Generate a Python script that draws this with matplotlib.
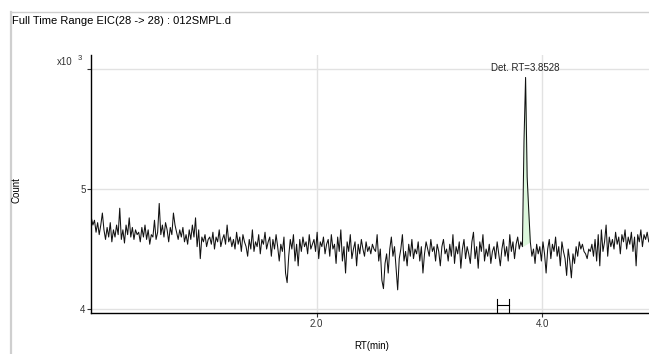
import numpy as np
import matplotlib.pyplot as plt
from matplotlib.lines import Line2D

plt.rcParams['font.family'] = ['Liberation Sans', 'DejaVu Sans']

# acquisition: first scan time and scan interval (min)
rt_start = 0.0028
rt_step = 0.014

# counts (x10^3)
counts = [
    4.76, 4.70, 4.74, 4.64, 4.72, 4.62, 4.70, 4.80, 4.66, 4.58, 4.68, 4.60, 4.72, 4.56, 4.66, 4.60, 4.70, 4.62, 4.84, 4.58, 4.66, 4.55, 4.70, 4.62, 4.76, 4.60, 4.68, 4.58, 4.66, 4.62,
    4.64, 4.56, 4.68, 4.60, 4.70, 4.58, 4.66, 4.54, 4.62, 4.60, 4.74, 4.58, 4.64, 4.88, 4.62, 4.70, 4.60, 4.72, 4.66, 4.56, 4.68, 4.62, 4.80, 4.70, 4.64, 4.58, 4.66, 4.60, 4.68, 4.56,
    4.62, 4.54, 4.66, 4.58, 4.70, 4.60, 4.76, 4.52, 4.66, 4.42, 4.60, 4.56, 4.62, 4.52, 4.58, 4.60, 4.54, 4.64, 4.50, 4.60, 4.56, 4.66, 4.52, 4.58, 4.62, 4.54, 4.70, 4.56, 4.60, 4.52,
    4.58, 4.50, 4.64, 4.54, 4.60, 4.48, 4.62, 4.56, 4.52, 4.44, 4.58, 4.50, 4.66, 4.48, 4.56, 4.52, 4.62, 4.46, 4.58, 4.54, 4.64, 4.50, 4.56, 4.60, 4.44, 4.58, 4.50, 4.62, 4.52, 4.40,
    4.54, 4.48, 4.60, 4.30, 4.22, 4.44, 4.58, 4.50, 4.62, 4.40, 4.54, 4.36, 4.58, 4.48, 4.60, 4.52, 4.56, 4.46, 4.62, 4.50, 4.54, 4.58, 4.48, 4.64, 4.42, 4.56, 4.52, 4.60, 4.46, 4.54,
    4.58, 4.44, 4.62, 4.50, 4.54, 4.38, 4.60, 4.48, 4.66, 4.40, 4.52, 4.30, 4.56, 4.48, 4.62, 4.42, 4.50, 4.56, 4.36, 4.54, 4.46, 4.58, 4.50, 4.44, 4.56, 4.48, 4.52, 4.46, 4.54, 4.50,
    4.48, 4.62, 4.40, 4.50, 4.24, 4.17, 4.38, 4.46, 4.30, 4.50, 4.60, 4.44, 4.52, 4.34, 4.16, 4.42, 4.50, 4.62, 4.40, 4.48, 4.36, 4.54, 4.44, 4.58, 4.42, 4.50, 4.46, 4.56, 4.40, 4.52,
    4.30, 4.46, 4.56, 4.50, 4.44, 4.58, 4.48, 4.52, 4.40, 4.54, 4.48, 4.36, 4.52, 4.58, 4.46, 4.50, 4.40, 4.54, 4.44, 4.62, 4.38, 4.52, 4.46, 4.56, 4.34, 4.50, 4.58, 4.42, 4.52, 4.46,
    4.38, 4.56, 4.64, 4.42, 4.52, 4.34, 4.56, 4.48, 4.62, 4.40, 4.50, 4.44, 4.54, 4.38, 4.48, 4.52, 4.42, 4.56, 4.46, 4.36, 4.50, 4.58, 4.44, 4.52, 4.40, 4.62, 4.48, 4.56, 4.42, 4.54,
    4.60, 4.50, 4.56, 4.52, 5.40, 5.93, 5.10, 4.82, 4.56, 4.44, 4.50, 4.38, 4.54, 4.46, 4.52, 4.40, 4.56, 4.46, 4.30, 4.50, 4.58, 4.42, 4.54, 4.48, 4.60, 4.44, 4.52, 4.36, 4.56, 4.48,
    4.42, 4.28, 4.50, 4.40, 4.26, 4.46, 4.38, 4.52, 4.44, 4.56, 4.50, 4.54, 4.48, 4.46, 4.42, 4.50, 4.48, 4.54, 4.44, 4.58, 4.40, 4.62, 4.36, 4.66, 4.48, 4.56, 4.70, 4.44, 4.60, 4.52,
    4.58, 4.50, 4.64, 4.54, 4.60, 4.46, 4.62, 4.56, 4.66, 4.50, 4.60, 4.54, 4.64, 4.48, 4.60, 4.36, 4.62, 4.56, 4.66, 4.52, 4.62, 4.58, 4.64, 4.56,
]

det_rt = 3.8528
peak_first, peak_last = 273, 278        # scans integrated under the peak
window_start, window_end = 3.60, 3.71   # RT window bracket

counts = np.array(counts)
rt = rt_start + rt_step * np.arange(len(counts))

fig = plt.figure(figsize=(6.49, 3.54), dpi=100)
ax = fig.add_axes([91 / 649, 41 / 354, 558 / 649, 258 / 354])

# peak area
seg = slice(peak_first, peak_last + 1)
base = np.interp(rt[seg], [rt[peak_first], rt[peak_last]],
                 [counts[peak_first], counts[peak_last]])
ax.fill_between(rt[seg], base, counts[seg], color='#dcf7dc', lw=0, zorder=1)

ax.plot(rt, counts, color='#111111', lw=0.75, zorder=2)

ax.set_xlim(0.0, 4.947)
ax.set_ylim(3.967, 6.117)
ax.set_xticks([2.0, 4.0])
ax.set_xticklabels(['2.0', '4.0'])
ax.set_yticks([4, 5, 6])
ax.set_yticklabels(['4', '5', ''])
ax.tick_params(labelsize=7, length=3, width=0.8, colors='#333333', pad=1)
ax.grid(True, color='#e2e2e2', lw=1)
ax.set_axisbelow(True)
for s in ['top', 'right']:
    ax.spines[s].set_visible(False)
for s in ['left', 'bottom']:
    ax.spines[s].set_linewidth(1.0)

# detected RT label
ax.text(det_rt, 6.01, 'Det. RT=%.4f' % det_rt, fontsize=7, ha='center',
        va='center', color='#222222')

# RT window bracket
yb = 4.03
ax.plot([window_start, window_end], [yb, yb], color='black', lw=0.8, clip_on=False)
for xb in (window_start, window_end):
    ax.plot([xb, xb], [3.975, 4.085], color='black', lw=0.8, clip_on=False)

# labels
fig.text(57 / 649, 1 - 62 / 354, 'x10', fontsize=7, ha='left', va='center', color='#333333')
fig.text(78 / 649, 1 - 59 / 354, '3', fontsize=5.5, ha='left', va='center', color='#333333')
fig.text(16 / 649, 1 - 190 / 354, 'Count', fontsize=7, rotation=90, ha='center', va='center')
fig.text(372 / 649, 1 - 346 / 354, 'RT(min)', fontsize=7, ha='center', va='center')
fig.text(12 / 649, 1 - 21 / 354, 'Full Time Range EIC(28 -> 28) : 012SMPL.d', fontsize=8,
         ha='left', va='center')

# outer panel frame
fig.add_artist(Line2D([11 / 649, 11 / 649], [0, 1 - 12 / 354], color='#cfcfcf', lw=1.6))
fig.add_artist(Line2D([11 / 649, 1], [1 - 12 / 354, 1 - 12 / 354], color='#cfcfcf', lw=1.0))

fig.savefig('out.png', dpi=100)
